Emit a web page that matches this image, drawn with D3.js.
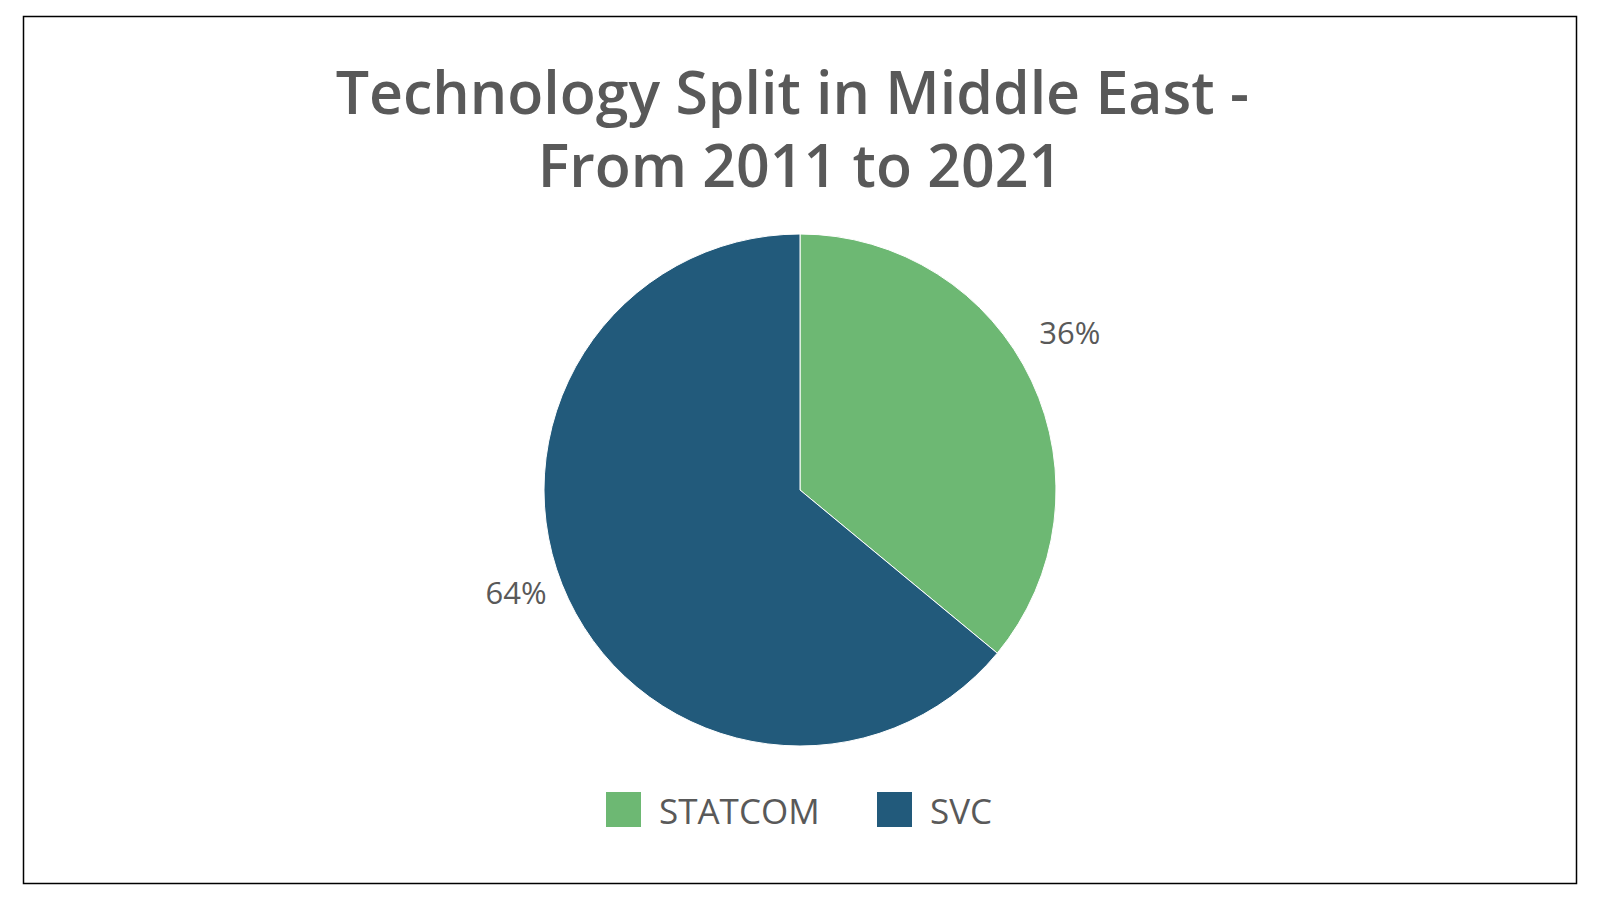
<!DOCTYPE html>
<html lang="en">
<head>
<meta charset="UTF-8">
<title>Technology Split in Middle East</title>
<script src="https://cdn.jsdelivr.net/npm/d3@7"></script>
<style>
  body { margin: 0; background: #fff; }
  text { font-family: "Open Sans", "Noto Sans", sans-serif; fill: #595959; }
</style>
</head>
<body>
<svg id="chart" width="1600" height="900"></svg>
<script>
// data
var categories = ["STATCOM", "SVC"];
var shares = [36, 64];
var colours = ["#6db873", "#225a7b"];
var titleLines = ["Technology Split in Middle East - ", "From 2011 to 2021"];

var width = 1600, height = 900,
    cx = 800, cy = 490, radius = 256;

var svg = d3.select("#chart");

// frame
svg.append("rect")
    .attr("x", 23.5).attr("y", 16.5)
    .attr("width", 1553).attr("height", 867)
    .attr("fill", "#fff")
    .attr("stroke", "#000")
    .attr("stroke-width", 1.5);

// title
svg.append("text")
    .attr("x", cx)
    .attr("text-anchor", "middle")
    .style("font-size", "59px")
    .style("font-weight", 600)
    .style("white-space", "pre")
    .selectAll("tspan")
    .data(titleLines)
    .join("tspan")
    .attr("x", cx)
    .attr("y", function (d, i) { return 114 + i * 73; })
    .text(function (d) { return d; });

// pie
var color = d3.scaleOrdinal().domain(categories).range(colours);

var pie = d3.pie()
    .value(function (d) { return d.value; })
    .sort(null);

var arcs = pie(categories.map(function (c, i) { return { name: c, value: shares[i] }; }));

var arc = d3.arc().innerRadius(0).outerRadius(radius);
var labelArc = d3.arc().innerRadius(306).outerRadius(306);

var g = svg.append("g").attr("transform", "translate(" + cx + "," + cy + ")");

g.selectAll("path")
    .data(arcs)
    .join("path")
    .attr("d", arc)
    .attr("fill", function (d) { return color(d.data.name); })
    .attr("stroke", "#fff")
    .attr("stroke-width", 1);

// data labels sit outside the slices, nudged up-left like the original
g.selectAll("text.lbl")
    .data(arcs)
    .join("text")
    .attr("class", "lbl")
    .attr("x", function (d) { return labelArc.centroid(d)[0] - 7; })
    .attr("y", function (d) { return labelArc.centroid(d)[1] - 27; })
    .attr("dy", "0.35em")
    .attr("text-anchor", "middle")
    .style("font-size", "31px")
    .text(function (d) { return d.data.value + "%"; });

// legend
var legendX = d3.scalePoint().domain(categories).range([606, 877]);

var leg = svg.selectAll("g.legend")
    .data(categories)
    .join("g")
    .attr("class", "legend")
    .attr("transform", function (d) { return "translate(" + legendX(d) + ",792)"; });

leg.append("rect")
    .attr("width", 35).attr("height", 35)
    .attr("fill", function (d) { return color(d); });

leg.append("text")
    .attr("x", 53)
    .attr("y", 32)
    .style("font-size", "35px")
    .text(function (d) { return d; });
</script>
</body>
</html>
